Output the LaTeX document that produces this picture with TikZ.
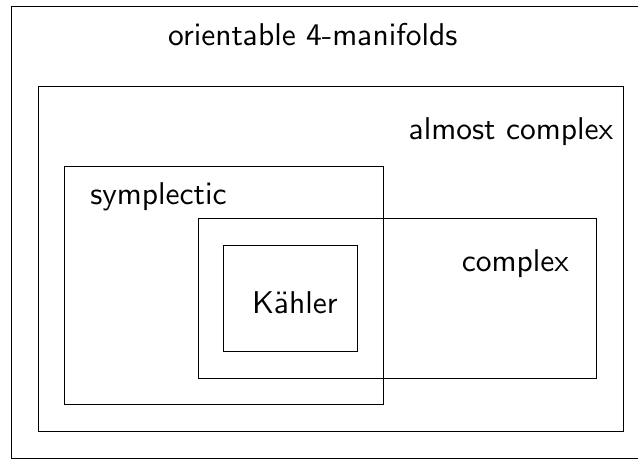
\documentclass[tikz,border=0pt]{standalone}
\font\setfont=cmss10 at 31.5pt
\begin{document}
\begin{tikzpicture}[x=1pt,y=-1pt,line width=0.8pt,
    every node/.style={font=\setfont,anchor=base}]
      \clip (0,0) rectangle (638,459);
      \begin{scope}[-]
        \draw (11,6) rectangle (660,458);
        \draw (38,86) rectangle (623,431);
        \draw (64,166) rectangle (383,404);
        \draw (198,218) rectangle (596,378);
        \draw (223,245) rectangle (357,351);
      \end{scope}
      \draw
        (313,45) node (orient){orientable 4-manifolds}
        (511,139) node (almost){almost complex}
        (158.5,204) node (sympl){symplectic}
        (515.5,271) node (cplx){complex}
        (295,313) node (kahler){K\accent127 ahler};
    \end{tikzpicture}
\end{document}
